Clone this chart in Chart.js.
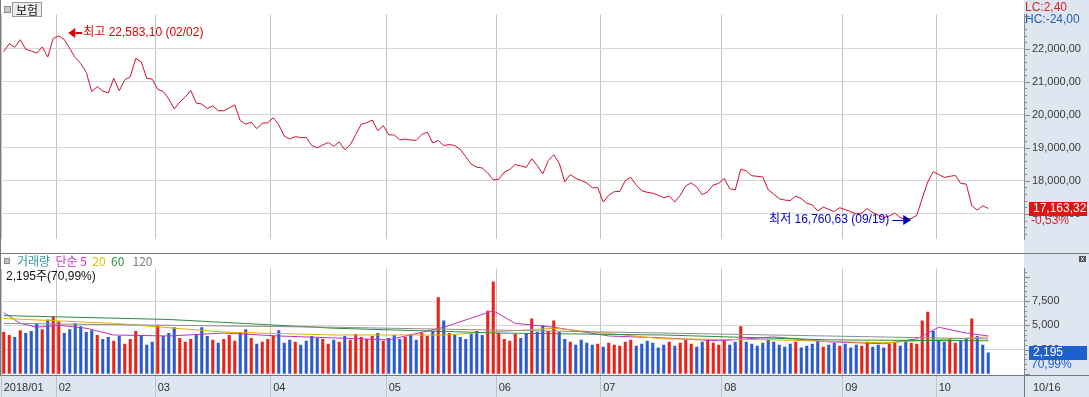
<!DOCTYPE html>
<html><head><meta charset="utf-8">
<script src="https://cdn.jsdelivr.net/npm/chart.js@4/dist/chart.umd.min.js"></script>
<style>
html,body{margin:0;padding:0;background:#fff;}
#wrap{position:relative;width:1089px;height:397px;overflow:hidden;}
#c1{position:absolute;left:0;top:0;width:1089px;height:254px;}
#c2{position:absolute;left:0;top:254px;width:1089px;height:143px;}
.t{position:absolute;white-space:nowrap;font-family:"Liberation Sans","Noto Sans CJK KR",sans-serif;font-size:12px;line-height:14px;}
</style></head><body>
<div id="wrap">
<canvas id="c1" width="1089" height="254"></canvas>
<canvas id="c2" width="1089" height="143"></canvas>
<div class="t" style="left:4px;top:6px;width:5px;height:5px;border:1px solid #8c8c8c;background:#c8c8c8;"></div>
<div class="t" style="left:12px;top:2px;width:28px;height:13px;border:1px solid #9a9a9a;background:#ececec;font-family:'Noto Sans CJK KR';font-size:12px;line-height:13px;text-align:center;color:#111;">보험</div>
<div class="t" style="left:1025px;top:0px;color:#e02020;">LC:2,40</div>
<div class="t" style="left:1025px;top:12px;color:#1f5fb0;">HC:-24,00</div>
<div class="t" style="left:4px;top:258px;width:4px;height:4px;border:1px solid #8c8c8c;background:#c0c0c0;"></div>
<div class="t" style="left:17px;top:254px;font-family:'Noto Sans CJK KR';font-size:12px;"><span style="color:#2f9a9a">거래량</span>&nbsp; <span style="color:#c030c0">단순 5</span>&nbsp; <span style="color:#e0c000">20</span>&nbsp; <span style="color:#2e8b3e">60</span>&nbsp; &nbsp;<span style="color:#808080">120</span></div>
<div class="t" style="left:6px;top:268px;color:#111;">2,195<span style="font-family:'Noto Sans CJK KR'">주</span>(70,99%)</div>
<div class="t" style="left:1079px;top:256px;width:7px;height:6px;background:#555;color:#fff;font-size:7px;line-height:6px;text-align:center;">x</div>
<div class="t" style="left:1033px;top:380px;color:#333;font-size:11px;">10/16</div>
</div>
<script>
// ---- categories: trading days shown (2018) ----
const months = ['01','02','03','04','05','06','07','08','09','10'];
const daysJan = [18,19,22,23,24,25,26,29,30,31];
const daysFeb = [1,2,5,6,7,8,9,12,13,14,19,20,21,22,23,26,27,28];
const daysMar = [2,5,6,7,8,9,12,13,14,15,16,19,20,21,22,23,26,27,28,29,30];
const daysApr = [2,3,4,5,6,9,10,11,12,13,16,17,18,19,20,23,24,25,26,27,30];
const daysMay = [2,3,4,8,9,10,11,14,15,16,17,18,21,23,24,25,28,29,30,31];
const daysJun = [1,4,5,7,8,11,12,14,15,18,19,20,21,22,25,26,27,28,29];
const daysJul = [2,3,4,5,6,9,10,11,12,13,16,17,18,19,20,23,24,25,26,27,30,31];
const daysAug = [1,2,3,6,7,8,9,10,13,14,16,17,20,21,22,23,24,27,28,29,30,31];
const daysSep = [3,4,5,6,7,10,11,12,13,14,17,18,19,20,21,27,28];
const daysOct = [1,2,4,5,8,10,11,12,15,16];
const daysByMonth = [daysJan,daysFeb,daysMar,daysApr,daysMay,daysJun,daysJul,daysAug,daysSep,daysOct];
const emptySlots = 6;

// ---- tick values ----
const priceTicks = [17000,18000,19000,20000,21000,22000];
const volumeTicks = [2500,5000,7500];

// ---- close prices ----
const close = [
21914,22156,22048,22274,21986,21933,21871,22059,21752,22317,
22390,22282,22005,21736,21556,21287,20703,20856,20722,20660,21106,20730,21063,21152,21709,21602,21106,21080,
20775,20703,20479,20183,20391,20541,20740,20358,20326,20192,20272,20122,20125,20210,20299,19826,19718,19780,19583,19745,19761,
19914,19699,19357,19268,19340,19314,19310,19072,18999,19088,19161,19045,19180,18946,19090,19403,19718,19761,19842,19519,19672,
19395,19390,19242,19268,19234,19230,19403,19476,19153,19223,19072,19099,19070,18954,18730,18507,18415,18389,18238,18031,
18049,18265,18346,18496,18453,18407,18668,18461,18211,18615,18792,18534,17969,18192,18076,18012,17942,17788,17797,
17358,17565,17673,17681,18012,18103,17877,17700,17654,17627,17565,17492,17538,17358,17565,17850,17942,17815,17581,17673,17877,17923,
18076,17762,17727,18354,18300,18157,18138,18119,17727,17600,17457,17420,17404,17538,17466,17323,17269,17089,17205,17135,17070,17188,
17130,17065,17000,17027,17161,17043,16962,16892,16935,17025,16890,16828,16865,16954,17474,17969,18281,
18192,18103,18138,18165,17923,17904,17250,17116,17245,17163.32
];
// ---- volume (thousand shares) ----
const volume = [
4300,4000,3800,4500,4200,4400,5200,4600,5600,5900,
5400,4200,4600,5200,4900,4300,4500,4000,3600,3800,3400,3900,3100,3600,4400,3900,3000,3300,
5000,3900,4200,4800,3700,3300,3600,4000,4800,3900,3500,3200,3600,4000,3400,4200,4600,3700,3100,3300,3600,
3900,4500,3200,3500,3300,3000,3400,3900,3700,3600,3100,3500,3300,3900,3500,4100,3800,3600,3900,4200,3400,
3700,4000,3600,3800,4100,3500,4200,3900,4400,7900,5500,4200,4000,3800,3600,4100,4400,4000,6500,9500,
4200,3600,3400,4100,3700,4200,5700,4300,5000,4400,5500,4300,3600,3300,3000,3500,3200,3000,3100,
2800,3200,3000,2900,3300,3500,2900,3100,3400,3200,2700,3000,3300,2900,3200,3500,3100,2800,3300,3600,3200,3000,
3400,3000,3300,4900,3300,3100,2900,3200,3500,3300,3000,2800,3100,3300,2700,2900,3100,3400,2800,3000,3200,2900,
3100,2700,3000,2900,3300,2800,3000,2700,3100,3200,2900,3400,3200,3100,5500,6400,4400,
3500,3300,3700,3200,3400,3600,5700,3900,3000,2195
];
// bars whose colour (up = red, down = blue) differs from the close-to-close move
const forcedUp = [28, 79, 88, 89, 176];
const forcedDown = [169, 178];

// ---- moving averages of volume, read at sparse points [index, value] ----
const ma5 = [[0,6300],[3,5200],[6,4800],[10,5000],[15,4700],[20,4000],[30,3900],[40,4200],[50,3900],[60,3700],[70,3500],[80,4800],[89,6500],[93,5200],[100,4800],[110,3900],[120,3700],[130,3400],[140,3800],[150,3300],[160,3100],[166,3600],[170,4800],[175,4200],[179,3900]];
const ma20 = [[0,5700],[20,5200],[40,4300],[60,4000],[80,4000],[100,4700],[120,3600],[140,3500],[160,3200],[179,3800]];
const ma60 = [[0,6000],[30,5600],[60,4700],[90,4200],[120,4000],[150,3500],[179,3400]];
const ma120 = [[0,5200],[60,4800],[120,4200],[179,3600]];

const highValue = 22583.10, highLabel = '02/02';
const lowValue = 16760.63, lowLabel = '09/19';
const lastChangeText = '-0,53%';
const lastVolRatioText = '70,99%';

// ---- build categories ----
const labels = [];
const monthStart = {};
daysByMonth.forEach((ds, m) => {
  ds.forEach((d, k) => {
    if (k === 0) monthStart[labels.length] = m;
    labels.push(months[m] + '/' + String(d).padStart(2,'0'));
  });
});
for (let i = 0; i < emptySlots; i++) labels.push('');
const highIndex = labels.indexOf(highLabel);
const lowIndex = labels.indexOf(lowLabel);

function sparse(pairs){
  const a = new Array(labels.length).fill(null);
  pairs.forEach(([i,v]) => { a[i] = v; });
  return a;
}
const RED = '#e8231c', BLUE = '#2a5cd0';
const dirColors = close.map((c, i) => {
  if (forcedUp.includes(i)) return RED;
  if (forcedDown.includes(i)) return BLUE;
  return (i === 0 || c >= close[i-1]) ? RED : BLUE;
});

const fmtPrice = v => Math.round(v).toLocaleString('en-US') + ',00';
const numFont = {family: 'Liberation Sans', size: 11};
const AXIS_BG = '#dde6f1';

function monthGridColor(ctx){
  return (ctx.index in monthStart) ? '#c4c4c4' : 'rgba(0,0,0,0)';
}

const frame = {
  id: 'frame',
  beforeDraw(chart, args, opts){
    const {ctx, chartArea: a, width, height} = chart;
    ctx.save();
    ctx.fillStyle = AXIS_BG;
    ctx.fillRect(a.right, 0, width - a.right, height);
    if (opts.strip) ctx.fillRect(0, a.bottom, width, height - a.bottom);
    ctx.restore();
  },
  afterDraw(chart, args, opts){
    const {ctx, chartArea: a, width, height} = chart;
    const ys = chart.scales.y;
    ctx.save();
    ctx.strokeStyle = '#8a8a8a';
    ctx.lineWidth = 1;
    const step = opts.minor, major = opts.major;
    for (let v = Math.ceil(ys.min / step) * step; v <= ys.max; v += step) {
      const y = Math.round(ys.getPixelForValue(v)) + 0.5;
      const len = (Math.abs(v % major) < 1e-6) ? 6 : 3;
      ctx.beginPath(); ctx.moveTo(a.right, y); ctx.lineTo(a.right + len, y); ctx.stroke();
    }
    ctx.strokeStyle = '#7a7a7a';
    ctx.beginPath(); ctx.moveTo(0.5, 0); ctx.lineTo(0.5, opts.strip ? a.bottom : height); ctx.stroke();
    if (opts.bottomLine) { ctx.beginPath(); ctx.moveTo(0, height - 0.5); ctx.lineTo(width, height - 0.5); ctx.stroke(); }
    if (opts.strip) {
      ctx.beginPath(); ctx.moveTo(0, a.bottom + 0.5); ctx.lineTo(width, a.bottom + 0.5); ctx.stroke();
      ctx.beginPath(); ctx.moveTo(a.right + 0.5, a.bottom); ctx.lineTo(a.right + 0.5, height); ctx.stroke();
    }
    const yy = ys.getPixelForValue(opts.lastValue);
    ctx.fillStyle = opts.boxColor;
    ctx.fillRect(a.right + 5, Math.round(yy) - 7, 58, 14);
    ctx.font = '12px "Liberation Sans"';
    ctx.textBaseline = 'middle'; ctx.textAlign = 'left';
    ctx.fillStyle = '#ffffff';
    ctx.fillText(opts.boxText, a.right + 9, Math.round(yy));
    ctx.fillStyle = opts.subColor;
    ctx.fillText(opts.subText, a.right + 7, Math.round(yy) + 12);
    ctx.restore();
  }
};

const extremes = {
  id: 'extremes',
  afterDatasetsDraw(chart){
    const {ctx} = chart;
    const xs = chart.scales.x, ys = chart.scales.y;
    ctx.save();
    ctx.font = '12px "Liberation Sans", "Noto Sans CJK KR"';
    ctx.textBaseline = 'middle';
    let tx = xs.getPixelForValue(highIndex) + 4, ty = Math.round(ys.getPixelForValue(highValue)) + 3;
    ctx.fillStyle = '#e00000';
    ctx.beginPath(); ctx.moveTo(tx, ty); ctx.lineTo(tx + 7, ty - 5); ctx.lineTo(tx + 7, ty + 5); ctx.closePath(); ctx.fill();
    ctx.fillRect(tx + 7, ty - 1, 7, 2);
    ctx.textAlign = 'left';
    ctx.fillText('최고 ' + highValue.toLocaleString('en-US', {minimumFractionDigits: 2}).replace('.', ',') + ' (' + highLabel + ')', tx + 15, ty);
    tx = xs.getPixelForValue(lowIndex); ty = Math.round(ys.getPixelForValue(lowValue)) - 2;
    ctx.fillStyle = '#0000c8';
    ctx.beginPath(); ctx.moveTo(tx, ty); ctx.lineTo(tx - 8, ty - 5); ctx.lineTo(tx - 8, ty + 5); ctx.closePath(); ctx.fill();
    ctx.fillRect(tx - 19, ty, 11, 1);
    ctx.textAlign = 'right';
    ctx.fillText('최저 ' + lowValue.toLocaleString('en-US', {minimumFractionDigits: 2}).replace('.', ',') + ' (' + lowLabel + ')', tx - 22, ty);
    ctx.restore();
  }
};

const xCommon = {
  type: 'category',
  offset: true,
  border: {display: false},
  grid: {offset: true, color: monthGridColor, lineWidth: 1}
};

new Chart(document.getElementById('c1'), {
  type: 'line',
  data: {
    labels,
    datasets: [{
      data: close, borderColor: '#cc1030', borderWidth: 1, pointRadius: 0, tension: 0, fill: false
    }]
  },
  options: {
    responsive: false, animation: false, devicePixelRatio: 1,
    layout: {padding: {left: 1, top: 0, right: 0, bottom: 1}},
    plugins: {legend: {display: false}, tooltip: {enabled: false},
      frame: {minor: 200, major: 1000, lastValue: close[close.length - 1], boxColor: '#e0150f', boxText: '17,163,32', subColor: '#e02020', subText: lastChangeText, bottomLine: true}
    },
    scales: {
      x: Object.assign({}, xCommon, {
        ticks: {display: false, autoSkip: false, maxRotation: 0},
        grid: Object.assign({}, xCommon.grid, {drawTicks: false}),
        afterFit(s){ s.height = 0; }
      }),
      y: {
        position: 'right', min: 16228, max: 23036,
        afterFit(s){ s.width = 65; },
        afterBuildTicks(s){ s.ticks = priceTicks.map(v => ({value: v})); },
        border: {display: true, color: '#8a8a8a'},
        grid: {color: '#d6d6d6', drawTicks: false},
        ticks: {padding: 8, color: '#3a3a3a', font: numFont, callback: fmtPrice}
      }
    }
  },
  plugins: [frame, extremes]
});

const lineDs = (pairs, color) => ({
  type: 'line', data: sparse(pairs), borderColor: color, borderWidth: 1, pointRadius: 0,
  tension: 0, spanGaps: true, fill: false, order: 0
});

new Chart(document.getElementById('c2'), {
  type: 'bar',
  data: {
    labels,
    datasets: [
      lineDs(ma120, '#8c8c8c'),
      lineDs(ma60, '#2e8b3e'),
      lineDs(ma20, '#e0b000'),
      lineDs(ma5, '#c030c0'),
      {type: 'bar', data: volume, backgroundColor: dirColors, categoryPercentage: 1, barPercentage: 0.56, order: 1}
    ]
  },
  options: {
    responsive: false, animation: false, devicePixelRatio: 1,
    layout: {padding: {left: 1, top: 0, right: 0, bottom: 0}},
    plugins: {legend: {display: false}, tooltip: {enabled: false},
      frame: {minor: 500, major: 2500, lastValue: volume[volume.length - 1], boxColor: '#1f5fd0', boxText: '2,195', subColor: '#1f5fd0', subText: lastVolRatioText, strip: true}
    },
    scales: {
      x: Object.assign({}, xCommon, {
        grid: Object.assign({}, xCommon.grid, {drawTicks: true, tickLength: 22}),
        ticks: {
          autoSkip: false, maxRotation: 0, minRotation: 0, align: 'start', padding: -16,
          color: '#333', font: numFont,
          callback(v, i){
            if (!(i in monthStart)) return '';
            return i === 0 ? '2018/' + months[0] : months[monthStart[i]];
          }
        },
        afterFit(s){ s.height = 22; }
      }),
      y: {
        position: 'right', min: -120, max: 10840,
        afterFit(s){ s.width = 65; },
        afterBuildTicks(s){ s.ticks = volumeTicks.map(v => ({value: v})); },
        border: {display: true, color: '#8a8a8a'},
        grid: {color: '#d6d6d6', drawTicks: false},
        ticks: {padding: 8, color: '#3a3a3a', font: numFont,
          callback: v => v.toLocaleString('en-US')}
      }
    }
  },
  plugins: [frame]
});
</script>
</body></html>
